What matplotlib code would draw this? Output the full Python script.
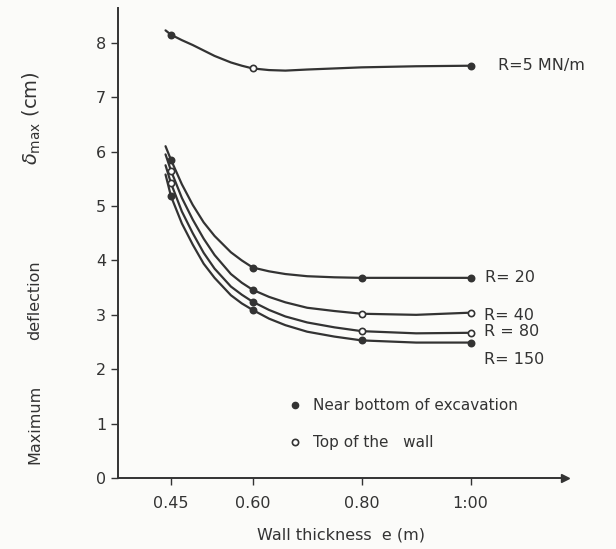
import matplotlib
matplotlib.use("Agg")
import matplotlib.pyplot as plt

# wall thickness (m) at which the curves were read
e_curve = [0.44, 0.45, 0.47, 0.49, 0.51, 0.53, 0.56, 0.58, 0.60, 0.63, 0.66,
           0.70, 0.75, 0.80, 0.90, 1.00]

# max deflection (cm) along each curve
d_R5 = [8.23, 8.15, 8.05, 7.96, 7.86, 7.76, 7.64, 7.58, 7.53, 7.50, 7.49,
        7.51, 7.53, 7.55, 7.57, 7.58]
d_R20 = [6.10, 5.85, 5.40, 5.02, 4.70, 4.45, 4.15, 4.00, 3.87, 3.80, 3.75,
         3.71, 3.69, 3.68, 3.68, 3.68]
d_R40 = [5.95, 5.65, 5.15, 4.75, 4.40, 4.10, 3.75, 3.59, 3.46, 3.33, 3.23,
         3.13, 3.07, 3.02, 3.00, 3.04]
d_R80 = [5.75, 5.42, 4.90, 4.50, 4.14, 3.85, 3.52, 3.37, 3.24, 3.09, 2.97,
         2.86, 2.77, 2.70, 2.66, 2.67]
d_R150 = [5.58, 5.18, 4.68, 4.29, 3.94, 3.68, 3.36, 3.21, 3.09, 2.93, 2.81,
          2.69, 2.60, 2.53, 2.49, 2.49]

curves = [d_R5, d_R20, d_R40, d_R80, d_R150]
labels = ["R=5 MN/m", "R= 20", "R= 40", "R = 80", "R= 150"]

# measured points: filled = near bottom of excavation, open = top of the wall
e_points = [0.45, 0.60, 0.80, 1.00]
filled = [
    [True, False, None, True],
    [True, True, True, True],
    [False, True, False, False],
    [False, True, False, False],
    [True, True, True, True],
]

xticks = [0.45, 0.60, 0.80, 1.00]
xticklabels = ["0.45", "0.60", "0.80", "1:00"]
yticks = [0, 1, 2, 3, 4, 5, 6, 7, 8]

ink = "#333333"
plt.rcParams["font.family"] = ["DejaVu Sans"]

fig = plt.figure(figsize=(6.16, 5.49), dpi=100)
fig.patch.set_facecolor("#fbfbf9")
ax = fig.add_axes([0.1916, 0.1293, 0.7254, 0.857])
ax.set_facecolor("#fbfbf9")

for d, fl in zip(curves, filled):
    ax.plot(e_curve, d, color=ink, lw=1.6, solid_capstyle="round")
    for e, f in zip(e_points, fl):
        if f is None:
            continue
        y = d[e_curve.index(e)]
        ax.plot([e], [y], "o", ms=4.5, mec=ink, mew=1.2,
                mfc=ink if f else "white", zorder=3)

# curve labels on the right
lab_y = [d_R5[-1], d_R20[-1], d_R40[-1] - 0.05, d_R80[-1] + 0.03, d_R150[-1] - 0.32]
lab_x = [1.05, 1.027, 1.025, 1.025, 1.025]
for x, y, t in zip(lab_x, lab_y, labels):
    ax.text(x, y, t, fontsize=11.5, color=ink, va="center", ha="left")

# legend written in the plot
ax.plot([0.678], [1.34], "o", ms=4.5, color=ink)
ax.text(0.71, 1.34, "Near bottom of excavation", fontsize=11, color=ink, va="center")
ax.plot([0.678], [0.66], "o", ms=4.5, mec=ink, mfc="white", mew=1.2)
ax.text(0.71, 0.66, "Top of the   wall", fontsize=11, color=ink, va="center")

ax.set_xlim(0.3528, 1.173)
ax.set_ylim(0, 8.65)
ax.set_xticks(xticks)
ax.set_xticklabels(xticklabels)
ax.set_yticks(yticks)
ax.tick_params(axis="both", colors=ink, labelsize=11.5, width=1, length=5)
ax.tick_params(axis="x", pad=8)
ax.spines["top"].set_visible(False)
ax.spines["right"].set_visible(False)
for s in ("left", "bottom"):
    ax.spines[s].set_color(ink)
    ax.spines[s].set_linewidth(1.4)

# arrow head at the end of the x axis
ax.plot(1, 0, ">", ms=6, color=ink, transform=ax.transAxes, clip_on=False)

ax.set_xlabel("Wall thickness  e (m)", fontsize=11.5, color=ink, labelpad=12)

# y label pieces
fig.text(0.057, 1 - 424 / 549, "Maximum", rotation=90, fontsize=11.5,
         color=ink, ha="center", va="center")
fig.text(0.057, 1 - 300 / 549, "deflection", rotation=90, fontsize=11.5,
         color=ink, ha="center", va="center")
fig.text(0.052, 1 - 118 / 549, r"$\delta_{\rm max}$ (cm)", rotation=90,
         fontsize=14, color=ink, ha="center", va="center")

fig.savefig("out.png", dpi=100, facecolor=fig.get_facecolor())
